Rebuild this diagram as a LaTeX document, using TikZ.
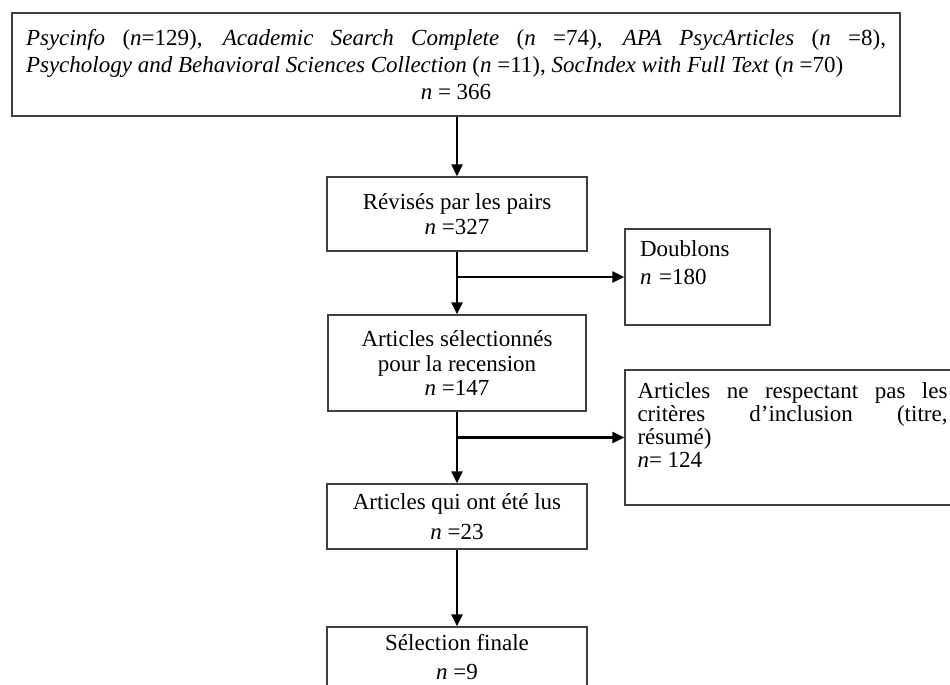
\documentclass[tikz,border=0pt]{standalone}
\usepackage{fontspec}
\setmainfont{Liberation Serif}
\usetikzlibrary{arrows.meta}
\begin{document}
\begin{tikzpicture}[x=1pt,y=-1pt,
    boite/.style={draw=black!75,line width=1.3pt,inner sep=0pt,align=center,
      font=\fontsize{23}{25}\selectfont},
    fleche/.style={-{Triangle[length=12pt,width=11pt]},line width=2.2pt}]
    \def \colx{457}; % colonne principale
    \useasboundingbox (0,0) rectangle (950,685);
    \clip (0,0) rectangle (950,685);
    % bases de donnees
    \node[boite,minimum width=888pt,minimum height=103pt,text width=860pt,align=justify,
      font=\fontsize{23}{27}\selectfont] (bases) at (456,64.5)
      {\textit{Psycinfo} (\textit{n}=129), \textit{Academic Search Complete} (\textit{n} =74), \textit{APA PsycArticles} (\textit{n} =8),\linebreak
       \textit{Psychology and Behavioral Sciences Collection} (\textit{n} =11), \textit{SocIndex with Full Text} (\textit{n} =70)\par
       {\centering \textit{n} = 366\par}};
    % colonne principale
    \node[boite,minimum width=260pt,minimum height=74pt] (rev) at (\colx,214)
      {Révisés par les pairs\\ \textit{n} =327};
    \node[boite,minimum width=258pt,minimum height=96pt,font=\fontsize{23}{24}\selectfont] (sel) at (\colx,363)
      {Articles sélectionnés\\ pour la recension\\ \textit{n} =147};
    \node[boite,minimum width=260pt,minimum height=65pt,font=\fontsize{23}{30}\selectfont] (lus) at (\colx,516.5)
      {Articles qui ont été lus\\ \textit{n} =23};
    \node[boite,minimum width=260pt,minimum height=60pt,font=\fontsize{23}{29}\selectfont] (fin) at (\colx,657)
      {Sélection finale\\ \textit{n} =9};
    % exclusions
    \node[boite,minimum width=145pt,minimum height=96pt,text width=115pt,align=left,
      font=\fontsize{23}{28}\selectfont] (doub) at (697.5,277)
      {Doublons\\ \textit{n} =180\rule[-28pt]{0pt}{0pt}};
    \node[boite,minimum width=335pt,minimum height=135pt,text width=310pt,align=justify,
      font=\fontsize{23}{23}\selectfont] (excl) at (792.5,437.5)
      {Articles ne respectant pas les\linebreak critères d’inclusion (titre,\linebreak résumé)\par
       \textit{n}= 124\rule[-24pt]{0pt}{0pt}};
    % fleches
    \draw[fleche] (rev.north |- bases.south) -- (rev.north);
    \draw[fleche] (rev.south) -- (sel.north);
    \draw[fleche] (rev.south |- doub.west) -- (doub.west);
    \draw[fleche] (sel.south) -- (lus.north);
    \draw[fleche] (sel.south |- excl.west) -- (excl.west);
    \draw[fleche] (lus.south) -- (fin.north);
\end{tikzpicture}
\end{document}
